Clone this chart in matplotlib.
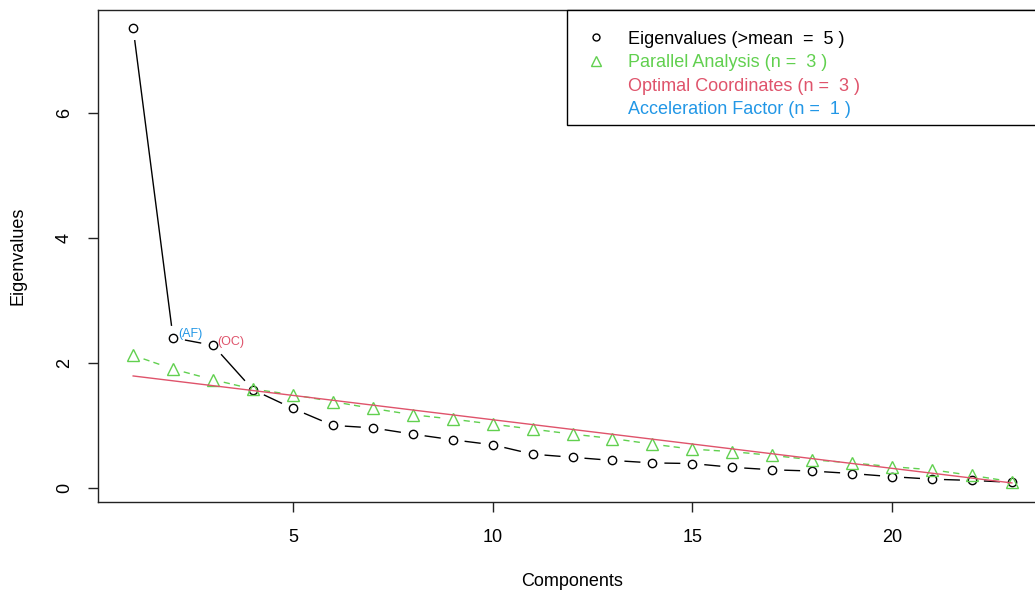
import matplotlib
matplotlib.use("Agg")
import matplotlib.pyplot as plt
from matplotlib.collections import LineCollection
from matplotlib.lines import Line2D
from matplotlib.patches import Rectangle
import numpy as np

plt.rcParams["font.family"] = ["Liberation Sans", "DejaVu Sans"]

# values (nFactors style)
components = np.arange(1, 24)
eigenvalues = [7.35, 2.40, 2.28, 1.57, 1.27, 1.00, 0.96, 0.86, 0.77, 0.69,
               0.54, 0.49, 0.44, 0.40, 0.39, 0.33, 0.29, 0.27, 0.23, 0.18,
               0.14, 0.12, 0.09]
parallel = [2.12, 1.90, 1.73, 1.58, 1.49, 1.38, 1.27, 1.17, 1.10, 1.02,
            0.94, 0.86, 0.79, 0.70, 0.62, 0.58, 0.52, 0.45, 0.40, 0.34,
            0.29, 0.20, 0.10]
oc_x = [1, 23]
oc_y = [1.79, 0.08]
af_comp, oc_comp = 2, 3
legend_labels = ["Eigenvalues (>mean  =  5 )", "Parallel Analysis (n =  3 )",
                 "Optimal Coordinates (n =  3 )", "Acceleration Factor (n =  1 )"]

BLACK = "black"
RED = "#DF536B"
GREEN = "#61D04F"
BLUE = "#2297E6"
FS = 13

W, H = 1035, 591
fig = plt.figure(figsize=(W / 100, H / 100), dpi=100)
# plot region (right edge falls just outside the saved image)
left, right, top, bottom = 98, 1047, 10, 501.7
ax = fig.add_axes([left / W, (H - bottom) / H, (right - left) / W, (bottom - top) / H])
ax.set_xlim(0.12, 23.88)
ax.set_ylim(-0.22, 7.64)


def gapped(ax, x, y, gap_px=12):
    """Segments between points with a gap around each point, like R type='b'."""
    pts = ax.transData.transform(np.column_stack([x, y]))
    inv = ax.transData.inverted()
    segs = []
    for p, q in zip(pts[:-1], pts[1:]):
        d = q - p
        L = np.hypot(*d)
        if L <= 2 * gap_px:
            continue
        u = d / L
        segs.append(inv.transform([p + u * gap_px, q - u * gap_px]))
    return segs


# eigenvalues
ax.add_collection(LineCollection(gapped(ax, components, eigenvalues), colors=BLACK, linewidths=1.0))
ax.plot(components, eigenvalues, ls="none", marker="o", ms=6, mfc="none", mec=BLACK, mew=1.0)

# parallel analysis
ax.add_collection(LineCollection(gapped(ax, components, parallel, 11), colors=GREEN, linewidths=1.0,
                                 linestyles=[(0, (4.5, 3))]))
ax.plot(components, parallel, ls="none", marker="^", ms=8.5, mfc="none", mec=GREEN, mew=1.0)

# optimal coordinates line
ax.plot(oc_x, oc_y, color=RED, lw=1.0)

ax.annotate("(AF)", (af_comp, eigenvalues[af_comp - 1]), xytext=(3.5, 3), textcoords="offset points",
            color=BLUE, fontsize=9, ha="left", va="center")
ax.annotate("(OC)", (oc_comp, eigenvalues[oc_comp - 1]), xytext=(3, 2.5), textcoords="offset points",
            color=RED, fontsize=9, ha="left", va="center")

ax.set_xticks([5, 10, 15, 20])
ax.set_yticks([0, 2, 4, 6])
ax.tick_params(axis="both", direction="out", length=7, width=1, labelsize=FS, color="#222222")
ax.tick_params(axis="x", pad=13)
ax.tick_params(axis="y", pad=11, labelrotation=90)
for lab in ax.get_yticklabels():
    lab.set_va("center")
for sp in ax.spines.values():
    sp.set_linewidth(1.0)
    sp.set_color("#222222")

ax.set_xlabel("Components", fontsize=FS)
ax.xaxis.set_label_coords(0.5, -(581 - bottom) / (bottom - top))
ax.xaxis.label.set_va("center")
ax.set_ylabel("Eigenvalues", fontsize=FS)
ax.yaxis.set_label_coords(-(left - 18) / (right - left), 0.5)
ax.yaxis.label.set_va("center")

# legend box: drawn as a rectangle, entries placed inside it
x0 = (567 - left) / (right - left)
y0 = (bottom - 125) / (bottom - top)
ax.add_patch(Rectangle((x0, y0), 1 - x0 + 0.01, 1 - y0, transform=ax.transAxes, fill=True,
                       facecolor="white", edgecolor="black", lw=1.0, clip_on=False, zorder=4))
handles = [
    Line2D([], [], ls="none", marker="o", ms=5, mfc="none", mec=BLACK, mew=1.0),
    Line2D([], [], ls="none", marker="^", ms=7, mfc="none", mec=GREEN, mew=1.0),
    Line2D([], [], ls="none"),
    Line2D([], [], ls="none"),
]
leg = ax.legend(handles, legend_labels, loc="upper left", bbox_to_anchor=(x0, 1 - 2.5 / (bottom - top)),
                borderaxespad=0, fontsize=FS, frameon=False, labelcolor=[BLACK, GREEN, RED, BLUE],
                handlelength=1.25, handletextpad=1.15, borderpad=1.0, labelspacing=0.36)
leg.set_zorder(5)

fig.savefig("out.png", dpi=100, facecolor="white")
